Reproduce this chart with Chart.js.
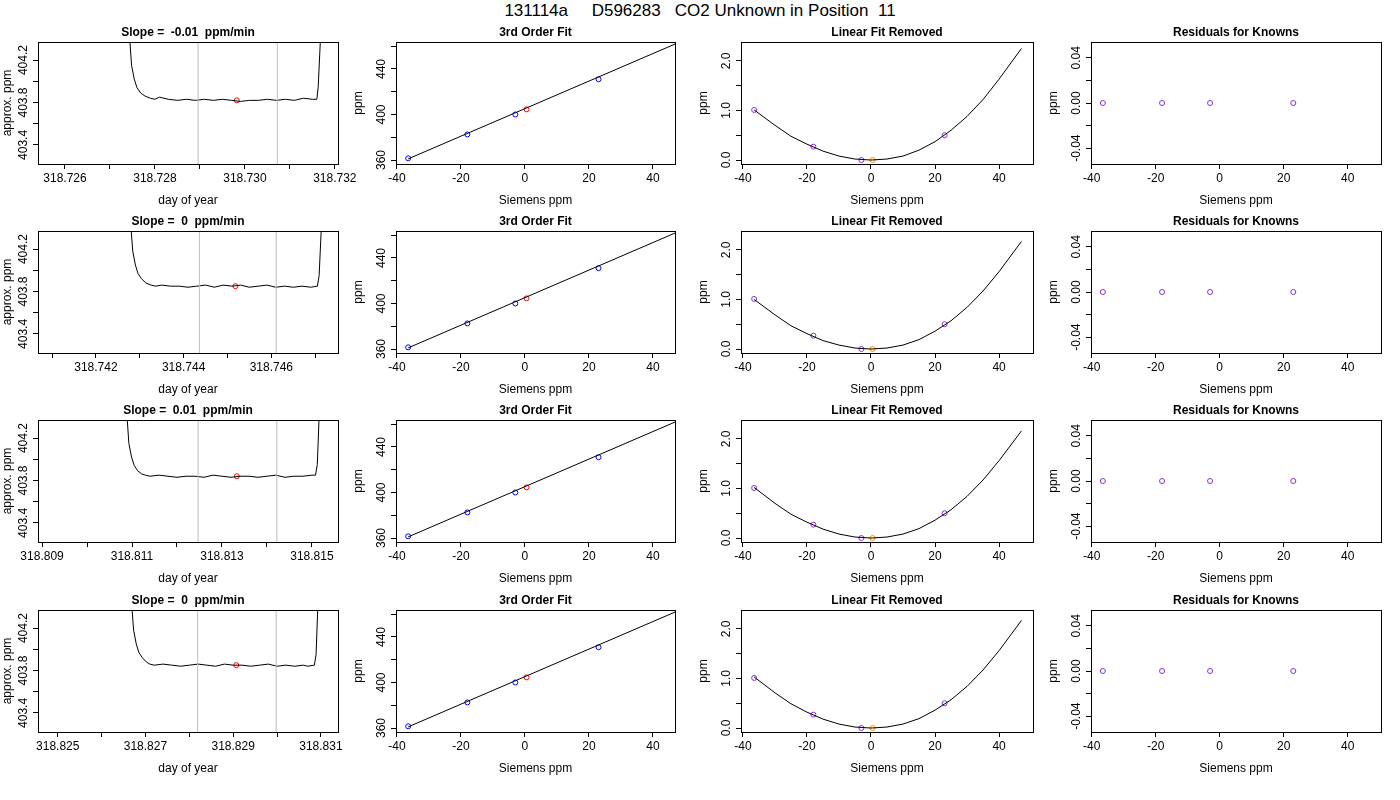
<!DOCTYPE html>
<html><head><meta charset="utf-8">
<script src="https://cdn.jsdelivr.net/npm/chart.js@4"></script>
<style>
body{margin:0;background:#fff;width:1400px;height:800px;position:relative;overflow:hidden;font-family:"Liberation Sans",Arial,sans-serif}
#sup{position:absolute;top:0;left:0;width:1400px;text-align:center;font-size:17px;line-height:22px;white-space:pre}
canvas{position:absolute}
</style></head><body>
<div id="sup">131114a     D596283   CO2 Unknown in Position  11</div>
<script>
// ---- data ----
const slopeTitles = ['Slope =  -0.01  ppm/min', 'Slope =  0  ppm/min', 'Slope =  0.01  ppm/min', 'Slope =  0  ppm/min'];

const traceX = [
  [318.72744,318.72748,318.72754,318.7276,318.72768,318.72778,318.7279,318.728,318.7281,318.7283,318.7285,318.7287,318.7289,318.7291,318.7293,318.7295,318.7297,318.7299,318.7301,318.7303,318.7305,318.7307,318.7309,318.7311,318.7313,318.7315,318.7316,318.73163,318.73168],
  [318.7428,318.74284,318.7429,318.74296,318.74304,318.74314,318.74326,318.74336,318.7435,318.7437,318.7439,318.7441,318.7443,318.7445,318.7447,318.7449,318.7451,318.7453,318.7455,318.7457,318.7459,318.7461,318.7463,318.7465,318.7467,318.7469,318.74705,318.74709,318.74714],
  [318.81089,318.81093,318.81099,318.81105,318.81113,318.81122,318.8113,318.8114,318.8116,318.8118,318.812,318.8122,318.8124,318.8126,318.8128,318.813,318.8132,318.8134,318.8136,318.8138,318.814,318.8142,318.8144,318.8146,318.8148,318.815,318.81508,318.81512,318.81516],
  [318.82669,318.82673,318.82679,318.82685,318.82693,318.82702,318.8271,318.8272,318.8274,318.8276,318.8278,318.828,318.8282,318.8284,318.8286,318.8288,318.829,318.8292,318.8294,318.8296,318.8298,318.83,318.8302,318.8304,318.8306,318.8307,318.83085,318.83089,318.83093]
];
const traceY = [
  [404.4,404.15,404.02,403.94,403.89,403.86,403.84,403.83,403.85,403.83,403.82,403.83,403.82,403.83,403.82,403.83,403.82,403.81,403.82,403.82,403.83,403.82,403.83,403.82,403.84,403.83,403.83,403.95,404.4],
  [404.4,404.18,404.05,403.97,403.92,403.88,403.86,403.85,403.86,403.85,403.85,403.84,403.85,403.86,403.84,403.86,403.85,403.86,403.84,403.85,403.86,403.84,403.85,403.84,403.85,403.84,403.85,403.95,404.4],
  [404.4,404.15,404.02,403.94,403.89,403.86,403.85,403.84,403.85,403.84,403.83,403.84,403.84,403.83,403.85,403.84,403.83,403.84,403.84,403.83,403.84,403.85,403.83,403.84,403.84,403.85,403.85,403.95,404.4],
  [404.4,404.18,404.05,403.97,403.92,403.88,403.86,403.85,403.86,403.85,403.84,403.85,403.86,403.85,403.84,403.86,403.85,403.85,403.84,403.85,403.86,403.84,403.85,403.84,403.85,403.84,403.85,403.95,404.4]
];
const windowLines = [[318.72896,318.73072],[318.74436,318.74611],[318.81247,318.81422],[318.82819,318.82998]];
const unknownTime = [318.72982,318.74518,318.81333,318.82907];
const unknownLevel = [403.82,403.85,403.84,403.85];
const timeRange = [[318.7254,318.73207],[318.74068,318.74752],[318.80891,318.81558],[318.82455,318.83139]];
const timeTicks = [
  [318.726,318.727,318.728,318.729,318.730,318.731,318.732],
  [318.741,318.742,318.743,318.744,318.745,318.746,318.747],
  [318.809,318.810,318.811,318.812,318.813,318.814,318.815],
  [318.825,318.826,318.827,318.828,318.829,318.830,318.831]
];
const timeLabels = [
  ['318.726','318.728','318.730','318.732'],
  ['318.742','318.744','318.746'],
  ['318.809','318.811','318.813','318.815'],
  ['318.825','318.827','318.829','318.831']
];
const ppmTicks = [403.4,403.6,403.8,404.0,404.2];
const ppmLabels = ['403.4','403.8','404.2'];

const knownSiemens = [-36.5,-18,-3,23];
const knownPpm = [361.5,382.5,400,431];
const unknownSiemens = 0.5;
const unknownPpm = 404.5;
const fitLineX = [-36.5,47];
const fitLineY = [361,462];

const curveX = [-36.5,-30,-25,-20,-15,-10,-5,0,5,10,15,20,25,30,35,40,47];
const curveY = [
  [1.01,0.70,0.48,0.32,0.18,0.08,0.02,0.0,0.02,0.08,0.20,0.37,0.60,0.88,1.22,1.63,2.25],
  [1.00,0.69,0.47,0.31,0.17,0.08,0.02,0.0,0.02,0.08,0.19,0.36,0.57,0.84,1.17,1.56,2.17],
  [1.02,0.70,0.48,0.32,0.18,0.08,0.02,0.0,0.02,0.08,0.19,0.36,0.57,0.84,1.17,1.56,2.16],
  [1.03,0.71,0.49,0.32,0.18,0.08,0.02,0.0,0.02,0.08,0.19,0.36,0.57,0.84,1.17,1.56,2.17]
];
const curveKnownY = [1.01,0.27,0.0,0.50];
const residuals = [0,0,0,0];

const siemensTicks = [-40,-20,0,20,40];
const fitTicks = [360,380,400,420,440,460];
const fitLabels = ['360','400','440'];
const lfrTicks = [0,0.5,1,1.5,2];
const lfrLabels = ['0.0','1.0','2.0'];
const resTicks = [-0.04,-0.02,0,0.02,0.04];
const resLabels = ['-0.04','0.00','0.04'];

// ---- layout ----
const colBox = [[38,338,38],[396,675,45],[741,1033,45],[1091,1381,45]];
const rowTop = [42,231,420,610];
const boxH = 122;
const RPAD = 24;
const FONT = '"Liberation Sans", Arial, sans-serif';
const PURPLE = '#8a2be2';

const framePlugin = {
  id: 'frame',
  afterDraw(chart) {
    const a = chart.chartArea, c = chart.ctx, o = chart.canvas.$spec;
    if (!o) return;
    c.save();
    c.strokeStyle = '#000'; c.lineWidth = 1;
    c.strokeRect(Math.round(a.left)+0.5, Math.round(a.top)+0.5, Math.round(a.right-a.left), Math.round(a.bottom-a.top));
    c.fillStyle = '#000';
    c.font = 'bold 12px ' + FONT; c.textAlign = 'center'; c.textBaseline = 'bottom';
    c.fillText(o.title, (a.left+a.right)/2, a.top-3);
    // R style rotated y tick labels
    const ys = chart.scales.y;
    c.font = '12px ' + FONT; c.textBaseline = 'bottom';
    ys.ticks.forEach(t => {
      const lab = o.yfmt(Number(t.value));
      if (!o.ylabels.includes(lab)) return;
      c.save();
      c.translate(a.left - 8, ys.getPixelForValue(t.value));
      c.rotate(-Math.PI/2);
      c.fillText(lab, 0, 0);
      c.restore();
    });
    c.restore();
  }
};

function pts(xs, ys) { return xs.map((x,i) => ({x, y: ys[i]})); }

function makePanel(row, col, spec) {
  const [l, r, yw] = colBox[col];
  const cv = document.createElement('canvas');
  const W = r - l + yw + RPAD, H = boxH + 20 + 48;
  cv.width = W; cv.height = H;
  cv.$spec = spec;
  cv.style.left = (l - yw) + 'px'; cv.style.top = (rowTop[row] - 20) + 'px';
  cv.style.width = W + 'px'; cv.style.height = H + 'px';
  document.body.appendChild(cv);
  const tickKeep = arr => function(s){ s.ticks = arr.map(v => ({value: v})); };
  new Chart(cv, {
    type: 'scatter',
    data: {datasets: spec.datasets},
    options: {
      responsive: false, animation: false, devicePixelRatio: 1,
      layout: {padding: {top: 20, right: RPAD, left: 0, bottom: 0}},
      plugins: {legend: {display: false}, tooltip: {enabled: false}},
      scales: {
        x: {type: 'linear', min: spec.xr[0], max: spec.xr[1],
          afterBuildTicks: tickKeep(spec.xticks),
          afterFit(s){ s.height = 48; s.paddingLeft = 0; s.paddingRight = 0; },
          grid: {drawOnChartArea: false, drawTicks: true, tickLength: 5, color: '#000'},
          border: {display: false},
          ticks: {color: '#000', maxRotation: 0, autoSkip: false, padding: 2, font: {family: FONT, size: 12},
            callback: v => { const s = spec.xfmt(Number(v)); return spec.xlabels.includes(s) ? s : ''; }},
          title: {display: true, text: spec.xtitle, color: '#000', font: {family: FONT, size: 12}, padding: {top: 2}}},
        y: {type: 'linear', min: spec.yr[0], max: spec.yr[1],
          afterBuildTicks: tickKeep(spec.yticks),
          afterFit(s){ s.width = yw; s.paddingTop = 0; s.paddingBottom = 0; },
          grid: {drawOnChartArea: false, drawTicks: true, tickLength: 5, color: '#000'},
          border: {display: false},
          ticks: {display: false},
          title: {display: true, text: spec.ytitle, color: '#000', font: {family: FONT, size: 12}, padding: 0}}
      }
    },
    plugins: [framePlugin]
  });
}

const lineDs = (data, color, w) => ({type: 'line', data, borderColor: color, borderWidth: w || 1, pointRadius: 0, showLine: true, tension: 0, fill: false});
const dotDs = (data, color) => ({data, borderColor: color, backgroundColor: 'rgba(0,0,0,0)', pointRadius: 2.5, borderWidth: 1});

for (let r = 0; r < 4; r++) {
  const yr1 = [403.22, 404.37];
  makePanel(r, 0, {
    title: slopeTitles[r], xtitle: 'day of year', ytitle: 'approx. ppm',
    xr: timeRange[r], yr: yr1, xticks: timeTicks[r], xlabels: timeLabels[r], xfmt: v => v.toFixed(3),
    yticks: ppmTicks, ylabels: ppmLabels, yfmt: v => v.toFixed(1),
    datasets: [
      lineDs(pts([windowLines[r][0], windowLines[r][0]], yr1), '#bdbdbd'),
      lineDs(pts([windowLines[r][1], windowLines[r][1]], yr1), '#bdbdbd'),
      lineDs(pts(traceX[r], traceY[r]), '#000'),
      dotDs([{x: unknownTime[r], y: unknownLevel[r]}], '#ff0000')
    ]
  });
  makePanel(r, 1, {
    title: '3rd Order Fit', xtitle: 'Siemens ppm', ytitle: 'ppm',
    xr: [-40.3, 46.9], yr: [356.5, 463.7], xticks: siemensTicks, xlabels: siemensTicks.map(String), xfmt: v => String(v),
    yticks: fitTicks, ylabels: fitLabels, yfmt: v => String(v),
    datasets: [
      lineDs(pts(fitLineX, fitLineY), '#000'),
      dotDs(pts(knownSiemens, knownPpm), '#0000ff'),
      dotDs([{x: unknownSiemens, y: unknownPpm}], '#ff0000')
    ]
  });
  makePanel(r, 2, {
    title: 'Linear Fit Removed', xtitle: 'Siemens ppm', ytitle: 'ppm',
    xr: [-40.6, 50.6], yr: [-0.08, 2.38], xticks: siemensTicks, xlabels: siemensTicks.map(String), xfmt: v => String(v),
    yticks: lfrTicks, ylabels: lfrLabels, yfmt: v => v.toFixed(1),
    datasets: [
      lineDs(pts(curveX, curveY[r]), '#000'),
      dotDs(pts(knownSiemens, curveKnownY), PURPLE),
      dotDs([{x: unknownSiemens, y: 0}], '#ff8c00')
    ]
  });
  makePanel(r, 3, {
    title: 'Residuals for Knowns', xtitle: 'Siemens ppm', ytitle: 'ppm',
    xr: [-40.2, 50.4], yr: [-0.054, 0.054], xticks: siemensTicks, xlabels: siemensTicks.map(String), xfmt: v => String(v),
    yticks: resTicks, ylabels: resLabels, yfmt: v => v.toFixed(2),
    datasets: [dotDs(pts(knownSiemens, residuals), PURPLE)]
  });
}
</script>
</body></html>
